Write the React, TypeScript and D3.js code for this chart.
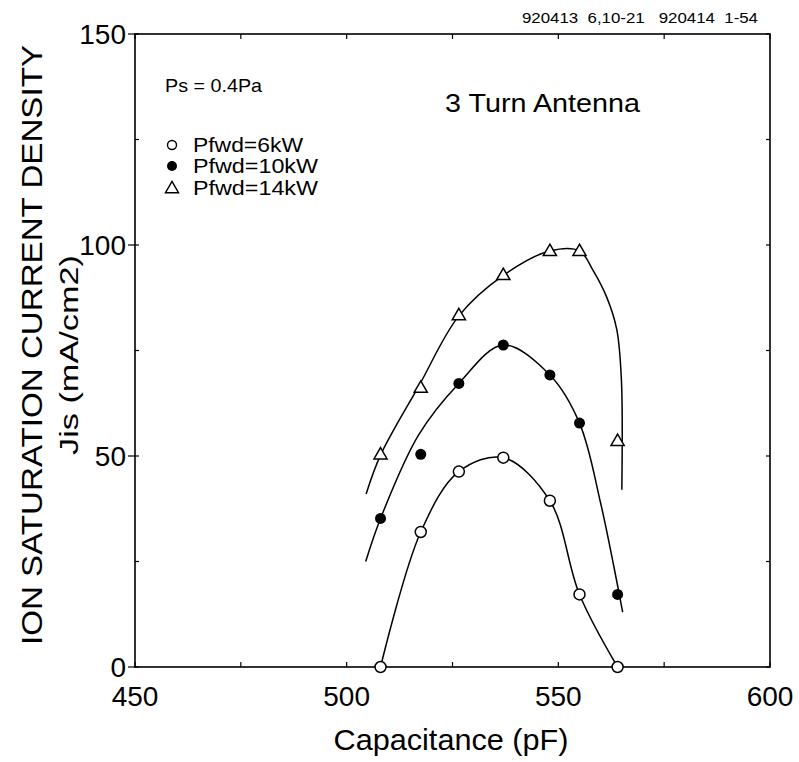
import * as d3 from 'd3';

// Jis vs capacitance, 3 turn antenna, Ps = 0.4Pa
const capacitance = [508, 517.5, 526.5, 537, 548, 555, 564];
const jis6kW = [0, 32, 46.3, 49.6, 39.4, 17.2, 0];
const jis10kW = [35.2, 50.4, 67.2, 76.3, 69.2, 57.8, 17.2];
const jis14kW = [50.2, 66, 83.2, 92.7, 98.4, 98.4, 53.4];

// hand-drawn fit curves
const fit6kW: [number, number][] = [[508, 0], [517.5, 32], [526.5, 46.3], [537, 49.6], [548, 39.4], [555, 17.2], [564, 0]];
const fit10kW: [number, number][] = [[504.5, 25], [508, 35.2], [517, 55], [526.5, 67.2], [537, 76.3], [548, 69.2], [555, 57.8], [560, 38.8], [565.2, 13]];
const fit14kW: [number, number][] = [[504.6, 41], [508, 50.2], [517, 66.5], [526.5, 83.2], [537, 92.8], [548, 98.6], [555, 98.6], [558.2, 94], [561.4, 87.7], [563.8, 80], [564.9, 68], [565, 42]];

const xTicks = [450, 500, 550, 600];
const xMinor = [475, 525, 575];
const yTicks = [0, 50, 100, 150];
const yMinor = [25, 75, 125];

const font = '"Liberation Sans", Arial, Helvetica, sans-serif';

export default function App() {
  const width = 799;
  const height = 762;
  const x = d3.scaleLinear().domain([450, 600]).range([135, 770]);
  const y = d3.scaleLinear().domain([0, 150]).range([667, 34]);

  const line = d3.line<[number, number]>()
    .x(d => x(d[0]))
    .y(d => y(d[1]))
    .curve(d3.curveCatmullRom.alpha(0.5));

  const tri = d3.symbol().type(d3.symbolTriangle).size(75)();

  const [x0, x1] = x.range();
  const [y0, y1] = y.range();

  return (
    <svg width={width} height={height} style={{ position: 'absolute', left: 0, top: 0, background: '#fff' }} fontFamily={font}>
      <text x={522} y={23} fontSize={14} xmlSpace="preserve" textLength={236} lengthAdjust="spacingAndGlyphs">920413  6,10-21   920414  1-54</text>

      {/* frame */}
      <rect x={x0} y={y1} width={x1 - x0} height={y0 - y1} fill="none" stroke="#000" strokeWidth={1.6} />

      {/* x ticks */}
      {[...xTicks, ...xMinor].map(t => (
        <g key={'xt' + t}>
          <line x1={x(t)} x2={x(t)} y1={y0} y2={y0 - 5} stroke="#000" strokeWidth={1.2} />
          <line x1={x(t)} x2={x(t)} y1={y1} y2={y1 + 5} stroke="#000" strokeWidth={1.2} />
        </g>
      ))}
      {xTicks.map(t => (
        <text key={'xl' + t} x={x(t)} y={706} fontSize={28} textAnchor="middle">{t}</text>
      ))}

      {/* y ticks */}
      {yTicks.map(t => (
        <line key={'yt' + t} x1={x0 - 7} x2={x0} y1={y(t)} y2={y(t)} stroke="#000" strokeWidth={1.2} />
      ))}
      {[...yTicks, ...yMinor].map(t => (
        <g key={'ym' + t}>
          <line x1={x0} x2={x0 + 4} y1={y(t)} y2={y(t)} stroke="#000" strokeWidth={1.2} />
          <line x1={x1} x2={x1 - 4} y1={y(t)} y2={y(t)} stroke="#000" strokeWidth={1.2} />
        </g>
      ))}
      {yTicks.map(t => (
        <text key={'yl' + t} x={126} y={y(t) + 10} fontSize={28} textAnchor="end">{t}</text>
      ))}

      {/* axis titles */}
      <text x={451} y={750} fontSize={29} textAnchor="middle" textLength={235} lengthAdjust="spacingAndGlyphs">Capacitance (pF)</text>
      <text transform="translate(42,345) rotate(-90)" fontSize={30} textAnchor="middle" textLength={600} lengthAdjust="spacingAndGlyphs">ION SATURATION CURRENT DENSITY</text>
      <text transform="translate(78,355) rotate(-90)" fontSize={25} textAnchor="middle" textLength={200} lengthAdjust="spacingAndGlyphs">Jis (mA/cm2)</text>

      {/* annotations */}
      <text x={165} y={92} fontSize={19} textLength={97} lengthAdjust="spacingAndGlyphs">Ps = 0.4Pa</text>
      <text x={445} y={112} fontSize={26} textLength={195} lengthAdjust="spacingAndGlyphs">3 Turn Antenna</text>

      {/* legend */}
      <circle cx={172} cy={145} r={4.5} fill="#fff" stroke="#000" strokeWidth={1.4} />
      <text x={193} y={152} fontSize={20} textLength={110} lengthAdjust="spacingAndGlyphs">Pfwd=6kW</text>
      <circle cx={172} cy={166} r={5} fill="#000" />
      <text x={193} y={173} fontSize={20} textLength={125} lengthAdjust="spacingAndGlyphs">Pfwd=10kW</text>
      <path d={tri} transform="translate(172,189)" fill="#fff" stroke="#000" strokeWidth={1.4} />
      <text x={193} y={195} fontSize={20} textLength={125} lengthAdjust="spacingAndGlyphs">Pfwd=14kW</text>

      {/* fit curves */}
      <path d={line(fit6kW) || ''} fill="none" stroke="#000" strokeWidth={1.5} />
      <path d={line(fit10kW) || ''} fill="none" stroke="#000" strokeWidth={1.5} />
      <path d={line(fit14kW) || ''} fill="none" stroke="#000" strokeWidth={1.5} />

      {/* points */}
      {capacitance.map((c, i) => (
        <circle key={'a' + i} cx={x(c)} cy={y(jis6kW[i])} r={5.5} fill="#fff" stroke="#000" strokeWidth={1.5} />
      ))}
      {capacitance.map((c, i) => (
        <circle key={'b' + i} cx={x(c)} cy={y(jis10kW[i])} r={5.5} fill="#000" />
      ))}
      {capacitance.map((c, i) => (
        <path key={'c' + i} d={tri} transform={`translate(${x(c)},${y(jis14kW[i])})`} fill="#fff" stroke="#000" strokeWidth={1.5} />
      ))}
    </svg>
  );
}
